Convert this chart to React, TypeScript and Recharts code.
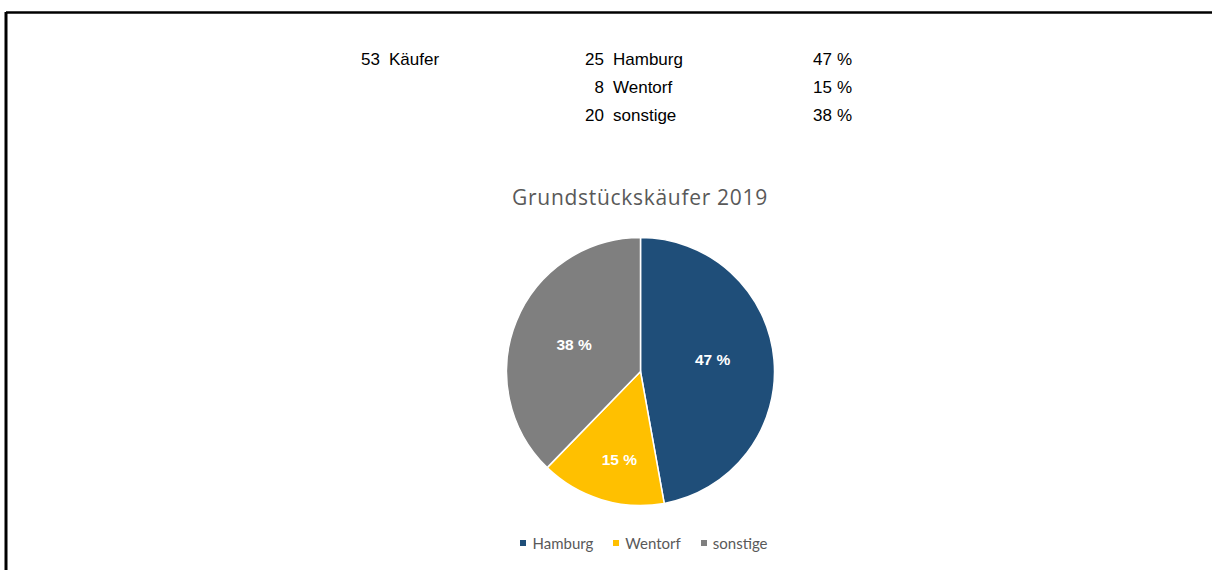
import React from "react";
import { PieChart, Pie, Cell, Legend } from "recharts";

const CATEGORIES = ["Hamburg", "Wentorf", "sonstige"];
const BUYERS = [25, 8, 20];
const TOTAL_WORD = "Käufer";
const CHART_TITLE = "Grundstückskäufer 2019";

const COLORS = ["#1F4E79", "#FFC000", "#7F7F7F"];
const LABEL_RADIUS = [0.545, 0.675, 0.535];
const LABEL_ANGLE_SHIFT = [4, 3.5, 0];

const TOTAL = BUYERS.reduce((a, b) => a + b, 0);
const PERCENTS = BUYERS.map((v) => Math.round((v / TOTAL) * 100));

const data = CATEGORIES.map((name, i) => ({ name, value: BUYERS[i], pct: PERCENTS[i] }));

const RAD = Math.PI / 180;

const renderLabel = (props: any) => {
  const { cx, cy, midAngle, outerRadius, index } = props;
  const r = outerRadius * LABEL_RADIUS[index];
  const a = midAngle + LABEL_ANGLE_SHIFT[index];
  const x = cx + r * Math.cos(-a * RAD);
  const y = cy + r * Math.sin(-a * RAD);
  return (
    <text
      x={x}
      y={y}
      fill="#FFFFFF"
      textAnchor="middle"
      dominantBaseline="central"
      style={{ fontFamily: "'Liberation Sans', Arial, sans-serif", fontWeight: 700, fontSize: 15.5 }}
    >
      {`${data[index].pct} %`}
    </text>
  );
};

const renderLegend = () => (
  <div
    style={{
      display: "flex",
      justifyContent: "center",
      alignItems: "center",
      fontFamily: "Lato, 'Open Sans', sans-serif",
      fontSize: 15,
      color: "#595959",
      gap: 20,
    }}
  >
    {data.map((d, i) => (
      <div key={d.name} style={{ display: "flex", alignItems: "center" }}>
        <span style={{ display: "inline-block", width: 6, height: 6, background: COLORS[i], marginRight: 6 }} />
        <span>{d.name}</span>
      </div>
    ))}
  </div>
);

const HEADER_FONT: React.CSSProperties = {
  fontFamily: "'Liberation Sans', Arial, sans-serif",
  fontSize: 17,
};

export default function App() {
  const rowBase = [65, 93, 121];
  return (
    <div style={{ position: "absolute", left: 0, top: 0, width: 1212, height: 570, background: "#fff", overflow: "hidden" }}>
      <svg width={1212} height={570} style={{ position: "absolute", left: 0, top: 0 }}>
        <line x1={6} y1={12.5} x2={1212} y2={12.5} stroke="#000" strokeWidth={2.5} />
        <line x1={6} y1={12} x2={6} y2={570} stroke="#000" strokeWidth={3} />
        <g style={HEADER_FONT} fill="#000">
          <text x={380} y={rowBase[0]} textAnchor="end">{TOTAL}</text>
          <text x={389} y={rowBase[0]}>{TOTAL_WORD}</text>
          {data.map((d, i) => (
            <g key={d.name}>
              <text x={604} y={rowBase[i]} textAnchor="end">{d.value}</text>
              <text x={613} y={rowBase[i]}>{d.name}</text>
              <text x={832} y={rowBase[i]} textAnchor="end">{d.pct}</text>
              <text x={837} y={rowBase[i]}>%</text>
            </g>
          ))}
        </g>
        <text
          x={640}
          y={205}
          textAnchor="middle"
          fill="#595959"
          style={{ fontFamily: "'Open Sans', Lato, sans-serif", fontSize: 21, letterSpacing: 0.7 }}
        >
          {CHART_TITLE}
        </text>
      </svg>
      <div style={{ position: "absolute", left: 0, top: 0 }}>
        <PieChart width={1212} height={570} margin={{ top: 0, right: 0, bottom: 0, left: 0 }}>
          <Pie
            data={data}
            dataKey="value"
            nameKey="name"
            cx={640.5}
            cy={371.5}
            outerRadius={134}
            startAngle={90}
            endAngle={-270}
            stroke="#FFFFFF"
            strokeWidth={1.5}
            label={renderLabel}
            labelLine={false}
            isAnimationActive={false}
          >
            {data.map((d, i) => (
              <Cell key={d.name} fill={COLORS[i]} />
            ))}
          </Pie>
          <Legend
            content={renderLegend}
            wrapperStyle={{ position: "absolute", left: 38, top: 534, width: 1212, height: 20 }}
          />
        </PieChart>
      </div>
    </div>
  );
}
